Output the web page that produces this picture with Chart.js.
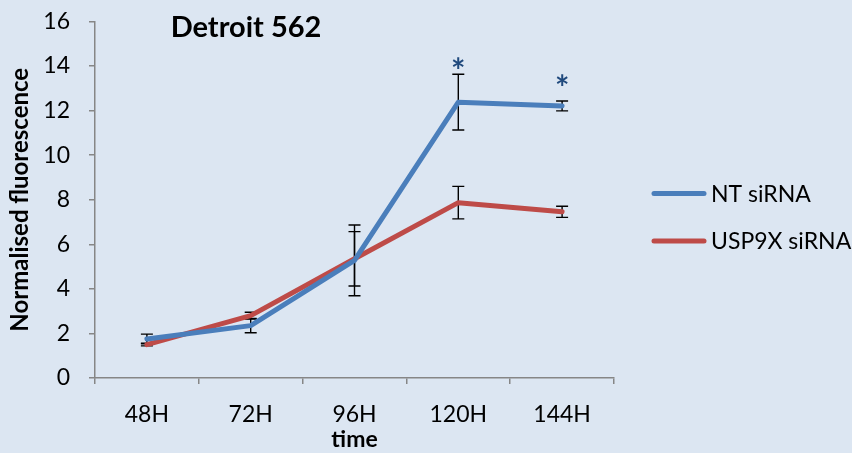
<!DOCTYPE html>
<html>
<head>
<meta charset="utf-8">
<script src="https://cdn.jsdelivr.net/npm/chart.js@4"></script>
<style>
  html, body { margin: 0; padding: 0; background: #dce6f2; }
  #wrap { width: 852px; height: 453px; }
</style>
</head>
<body>
<div id="wrap"><canvas id="c" width="852" height="453"></canvas></div>
<script>
// Time points and measurements
const timeLabels = ['48H', '72H', '96H', '120H', '144H'];
const ntValues   = [1.75, 2.35, 5.28, 12.38, 12.21];
const ntErrors   = [0.22, 0.32, 1.59, 1.25, 0.22];
const uspValues  = [1.50, 2.80, 5.35, 7.87, 7.46];
const uspErrors  = [0.06, 0.15, 1.22, 0.73, 0.25];
// Significance markers (value at which the star is centred; null = none)
const starLevels = [null, null, null, 14.12, 13.37];
const yTicks = [0, 2, 4, 6, 8, 10, 12, 14, 16];

const FONT = 'Lato, "Open Sans", sans-serif';
const AXIS_GREY = '#868686';

// Draws text with its ink box vertically centred on y
function fillCentered(ctx, text, x, y) {
  const m = ctx.measureText(text);
  const asc = m.actualBoundingBoxAscent, desc = m.actualBoundingBoxDescent;
  ctx.textBaseline = 'alphabetic';
  ctx.fillText(text, x, y + (asc - desc) / 2);
}

const extras = {
  id: 'extras',
  beforeDatasetsDraw(chart) {
    // error bars sit underneath the series lines
    const ctx = chart.ctx;
    const y = chart.scales.y;
    ctx.save();
    ctx.strokeStyle = '#000';
    ctx.lineWidth = 1.4;
    chart.data.datasets.forEach((ds, i) => {
      const meta = chart.getDatasetMeta(i);
      ds.errors.forEach((e, j) => {
        const px = meta.data[j].x;
        const top = y.getPixelForValue(ds.data[j] + e);
        const bot = y.getPixelForValue(ds.data[j] - e);
        ctx.beginPath();
        ctx.moveTo(px, top); ctx.lineTo(px, bot);
        ctx.moveTo(px - 6, top); ctx.lineTo(px + 6, top);
        ctx.moveTo(px - 6, bot); ctx.lineTo(px + 6, bot);
        ctx.stroke();
      });
    });
    ctx.restore();
  },
  afterDraw(chart) {
    const ctx = chart.ctx;
    const x = chart.scales.x, y = chart.scales.y;
    ctx.save();
    // significance stars
    ctx.fillStyle = '#1f497d';
    ctx.font = 'bold 34px ' + FONT;
    ctx.textAlign = 'center';
    starLevels.forEach((v, j) => {
      if (v === null) return;
      fillCentered(ctx, '*', x.getPixelForValue(j), y.getPixelForValue(v));
    });
    // chart title
    ctx.fillStyle = '#000';
    ctx.font = 'bold 29px ' + FONT;
    ctx.fillText('Detroit 562', 246, 37);
    // legend
    ctx.textAlign = 'left';
    ctx.font = '23px ' + FONT;
    chart.data.datasets.forEach((ds, i) => {
      const ly = 193.5 + i * 47.5;
      ctx.strokeStyle = ds.borderColor;
      ctx.lineWidth = 5;
      ctx.lineCap = 'round';
      ctx.beginPath();
      ctx.moveTo(654, ly); ctx.lineTo(704, ly);
      ctx.stroke();
      ctx.fillStyle = '#000';
      ctx.textBaseline = 'middle';
      ctx.fillText(ds.label, 711, ly + 1);
    });
    ctx.restore();
  }
};

new Chart(document.getElementById('c'), {
  type: 'line',
  data: {
    labels: timeLabels,
    datasets: [
      { label: 'NT siRNA', data: ntValues, errors: ntErrors,
        borderColor: '#4a7ebb', borderWidth: 5, borderCapStyle: 'round',
        borderJoinStyle: 'round', pointRadius: 0, tension: 0 },
      { label: 'USP9X siRNA', data: uspValues, errors: uspErrors,
        borderColor: '#be4b48', borderWidth: 5, borderCapStyle: 'round',
        borderJoinStyle: 'round', pointRadius: 0, tension: 0 }
    ]
  },
  plugins: [extras],
  options: {
    responsive: false,
    animation: false,
    layout: { padding: { top: 21.5, right: 238, bottom: 0, left: 0 } },
    plugins: { legend: { display: false }, tooltip: { enabled: false }, title: { display: false } },
    scales: {
      x: {
        offset: true,
        grid: { offset: true, drawOnChartArea: false, drawTicks: true, tickLength: 6, color: AXIS_GREY, lineWidth: 1.5 },
        border: { color: AXIS_GREY, width: 1.5 },
        ticks: { color: '#000', font: { family: FONT, size: 23 }, padding: 17, maxRotation: 0 },
        title: { display: true, text: 'time', color: '#000', font: { family: FONT, size: 23, weight: 'bold' }, padding: { top: 0, bottom: 0 } },
        afterFit(s) { s.height = 75; }
      },
      y: {
        min: 0, max: 16,
        afterBuildTicks(s) { s.ticks = yTicks.map(v => ({ value: v })); },
        grid: { drawOnChartArea: false, drawTicks: true, tickLength: 6, color: AXIS_GREY, lineWidth: 1.5 },
        border: { color: AXIS_GREY, width: 1.5 },
        ticks: { color: '#000', font: { family: FONT, size: 23 }, padding: 19 },
        title: { display: true, text: 'Normalised fluorescence', color: '#000', font: { family: FONT, size: 24, weight: 'bold' }, padding: { top: 6, bottom: 0 } },
        afterFit(s) { s.width = 95; s.paddingTop = 0; s.paddingBottom = 0; }
      }
    }
  }
});
</script>
</body>
</html>
